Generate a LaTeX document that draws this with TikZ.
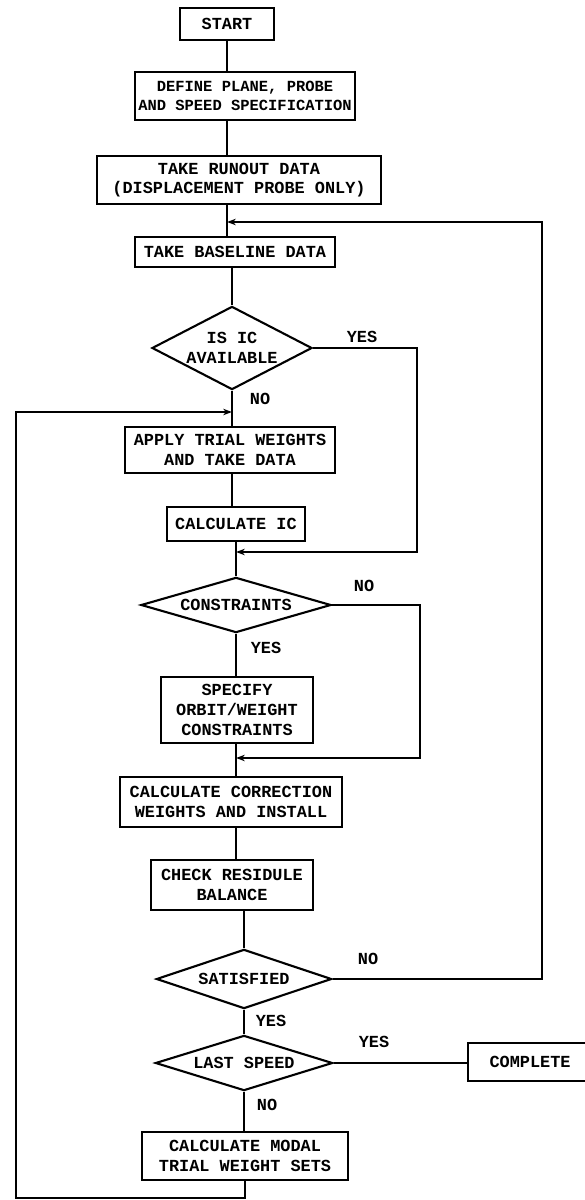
\documentclass[tikz,border=0pt]{standalone}
\usepackage{fontspec}
\setmonofont{Liberation Mono}
\usetikzlibrary{shapes.geometric,arrows.meta,positioning}

\begin{document}
\begin{tikzpicture}[
    x=0.025cm, y=-0.025cm,
    every node/.style={font=\ttfamily\bfseries\fontsize{12}{14}\selectfont},
    procbox/.style={rectangle, draw, line width=1.5pt, align=center, inner sep=0pt},
    decision/.style={diamond, draw, line width=1.5pt, align=center, inner sep=0pt},
    line/.style={line width=1.3pt},
    flow/.style={line width=1.3pt, -{Stealth[length=2.2mm, width=1.6mm]}},
    answer/.style={font=\ttfamily\bfseries\fontsize{12}{14}\selectfont}
]
\useasboundingbox (0,0) rectangle (584,1200);

% Boxes
\node[procbox, minimum width=2.35cm, minimum height=0.8cm] (start) at (227,24) {START};
\node[procbox, minimum width=5.5cm, minimum height=1.2cm,
      font=\ttfamily\bfseries\fontsize{11}{14}\selectfont] (define) at (245,96) {DEFINE PLANE, PROBE\\AND SPEED SPECIFICATION};
\node[procbox, minimum width=7.1cm, minimum height=1.18cm] (runout) at (239,180) {TAKE RUNOUT DATA\\(DISPLACEMENT PROBE ONLY)};
\node[procbox, minimum width=5.0cm, minimum height=0.75cm] (baseline) at (235,252) {TAKE BASELINE DATA};
\node[decision, aspect=1.93, minimum width=4.0cm, minimum height=2.08cm] (isic) at (232,348) {IS IC\\AVAILABLE};
\node[procbox, minimum width=5.25cm, minimum height=1.15cm] (apply) at (230,450) {APPLY TRIAL WEIGHTS\\AND TAKE DATA};
\node[procbox, minimum width=3.43cm, minimum height=0.83cm] (calcic) at (236,524) {CALCULATE IC};
\node[decision, aspect=3.45, minimum width=4.75cm, minimum height=1.38cm] (constr) at (236,605) {CONSTRAINTS};
\node[procbox, minimum width=3.8cm, minimum height=1.65cm] (specify) at (237,710) {SPECIFY\\ORBIT/WEIGHT\\CONSTRAINTS};
\node[procbox, minimum width=5.55cm, minimum height=1.25cm] (correction) at (231,802) {CALCULATE CORRECTION\\WEIGHTS AND INSTALL};
\node[procbox, minimum width=4.03cm, minimum height=1.25cm] (check) at (232,885) {CHECK RESIDULE\\BALANCE};
\node[decision, aspect=2.97, minimum width=4.38cm, minimum height=1.48cm] (satisfied) at (244,979) {SATISFIED};
\node[decision, aspect=3.2, minimum width=4.43cm, minimum height=1.38cm] (lastspeed) at (244,1063) {LAST SPEED};
\node[procbox, minimum width=3.1cm, minimum height=0.93cm] (complete) at (530,1062) {COMPLETE};
\node[procbox, minimum width=5.13cm, minimum height=1.2cm] (modal) at (245,1156) {CALCULATE MODAL\\TRIAL WEIGHT SETS};

% Branch labels
\node[answer] (isicyes) at (362,337) {YES};
\node[answer] (isicno) at (260,399) {NO};
\node[answer] (constrno) at (364,586) {NO};
\node[answer] (constryes) at (266,648) {YES};
\node[answer] (satno) at (368,959) {NO};
\node[answer] (satyes) at (271,1021) {YES};
\node[answer] (lastyes) at (374,1042) {YES};
\node[answer] (lastno) at (267,1105) {NO};

% Junctions and loop corners
\coordinate (j1) at (227,222);
\coordinate (j2) at (232,412);
\coordinate (j3) at (236,552);
\coordinate (j4) at (236,758);
\coordinate (rloop) at (542,0);
\coordinate (icloop) at (417,0);
\coordinate (cnloop) at (420,0);
\coordinate (lloop) at (16,1198);

% Main flow
\draw[line] (start.south) -- (define.north -| start);
\draw[line] (define.south -| start) -- (runout.north -| start);
\draw[line] (runout.south -| start) -- (baseline.north -| start);
\draw[line] (baseline.south -| isic) -- (isic.north);
\draw[line] (isic.south) -- (apply.north -| isic);
\draw[line] (apply.south -| isic) -- (calcic.north -| isic);
\draw[line] (calcic.south) -- (constr.north);
\draw[line] (constr.south) -- (specify.north -| constr);
\draw[line] (specify.south -| constr) -- (correction.north -| constr);
\draw[line] (correction.south -| constr) -- (check.north -| constr);
\draw[line] (check.south -| satisfied) -- (satisfied.north);
\draw[line] (satisfied.south) -- (lastspeed.north);
\draw[line] (lastspeed.south) -- (modal.north -| lastspeed);
\draw[line] (lastspeed.east) -- (lastspeed.east -| complete.west);

% Loops back to the main line
\draw[flow] (satisfied.east) -- (satisfied.east -| rloop) -- (j1 -| rloop) -- (j1);
\draw[flow] (isic.east) -- (isic.east -| icloop) -- (j3 -| icloop) -- (j3);
\draw[flow] (constr.east) -- (constr.east -| cnloop) -- (j4 -| cnloop) -- (j4);
\draw[flow] (modal.south) -- (modal.south |- lloop) -- (lloop) -- (lloop |- j2) -- (j2);

\end{tikzpicture}
\end{document}
